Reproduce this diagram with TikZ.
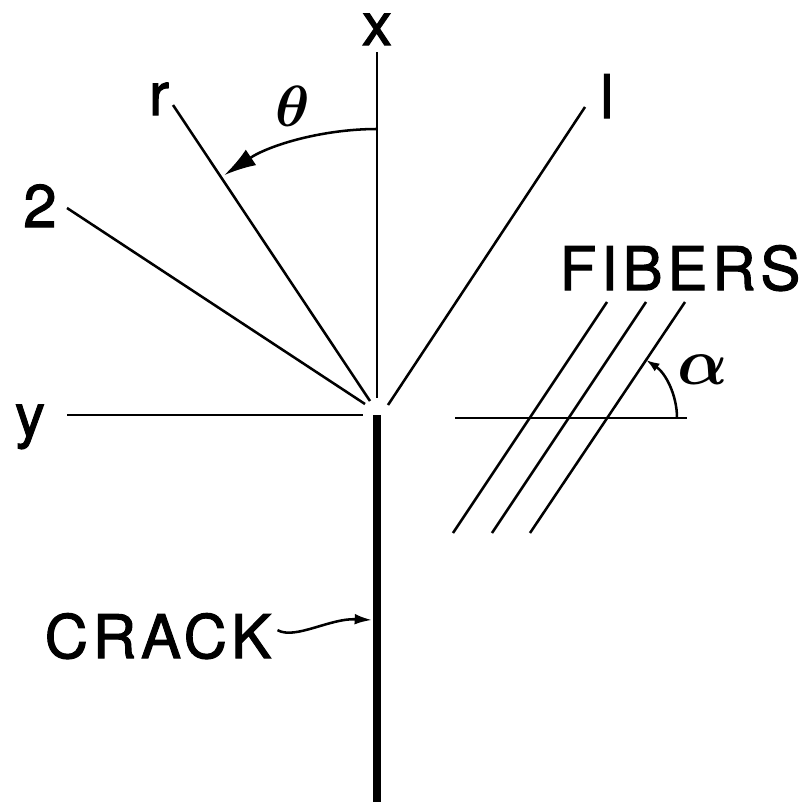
\documentclass[tikz,border=0pt]{standalone}
\usepackage{graphicx}
\usepackage{fontspec}
\setmainfont[FakeBold=1.8]{TeX Gyre Heros}
\usetikzlibrary{arrows.meta}

\begin{document}
\begin{tikzpicture}[x=0.75pt,y=-0.75pt,line width=1.9pt,
  lbl/.style={anchor=base,inner sep=0pt,font=\fontsize{45}{50}\selectfont},
  word/.style={lbl,font=\fontsize{45}{50}\selectfont\addfontfeature{LetterSpace=8}},
  greek/.style={inner sep=0pt,font=\fontsize{24.88}{30}\selectfont\boldmath}]
\useasboundingbox (0,0) rectangle (809,803);
% axes and crack
\coordinate (xtop) at (377,52);
\coordinate (xbot) at (377,398);
\coordinate (yleft) at (67,415);
\coordinate (yright) at (363,415);
\draw (xtop) -- (xbot);
\draw (yleft) -- (yright);
\draw[line width=6pt] (377,415) -- (377,802);
\node[lbl] (xlab) at (377,45) {x};
\node[lbl] (ylab) at (30,436) {y};
% rays
\coordinate (rend) at (173,105);
\coordinate (twoend) at (67,208);
\coordinate (oneend) at (585,107);
\draw (rend) -- (370,401);
\draw (twoend) -- (365,404);
\draw (oneend) -- (388,405);
\node[lbl] (rlab) at (159,115) {r};
\node[lbl] (twolab) at (40,227) {2};
\node[lbl] (onelab) at (607,118) {l};
% angle theta
\draw[-{Latex[length=24pt,width=14pt]}] (377,129) arc[start angle=-90,end angle=-123.6,radius=276];
\node[greek] (theta) at (293,106) {\scalebox{1.75}{$\theta$}};
% fibers
\draw (455,418) -- (687,418);
\foreach \a/\b in {607/453,646/492,685/530}
  \draw (\a,302) -- (\b,533);
\draw[-{Latex[length=10pt,width=7pt]}] (677,418) arc[start angle=0,end angle=-56,radius=70];
\node[greek] (alpha) at (703,370) {\scalebox{2}{$\alpha$}};
\node[word] (fibers) at (680,290) {FIBERS};
% crack label
\node[word] (crack) at (158,658) {CRACK};
\coordinate (ctail) at ([shift={(5,-6)}]crack.east);
\coordinate (chit) at (372,620);
\draw[-{Latex[length=13pt,width=8pt]}] (ctail) .. controls (295,640) and (330,618) .. (chit);
\end{tikzpicture}
\end{document}
